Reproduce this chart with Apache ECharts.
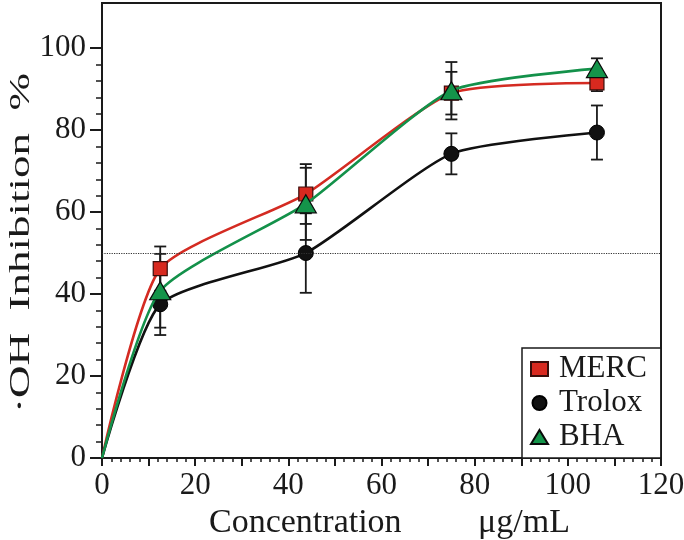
<!DOCTYPE html>
<html>
<head>
<meta charset="utf-8">
<script src="https://cdn.jsdelivr.net/npm/echarts@6/dist/echarts.min.js"></script>
<style>html,body{margin:0;padding:0;background:#fff}#c{width:684px;height:540px}</style>
</head>
<body>
<div id="c"></div>
<script>
// ---- data ----
const xValues = [0, 12.5, 43.75, 75, 106.25];
const mercValues = [0, 46.2, 64.4, 89.0, 91.5];
const mercErrors = [0, 5.4, 7.3, 5.2, 2.0];
const troloxValues = [0, 37.5, 50.0, 74.2, 79.4];
const troloxErrors = [0, 7.5, 9.7, 5.0, 6.6];
const bhaValues = [0, 40.8, 62.0, 89.6, 95.0];
const bhaErrors = [0, 9.0, 8.8, 7.0, 2.5];
const xTickLabels = [0, 20, 40, 60, 80, 100, 120];
const yTickLabels = [0, 20, 40, 60, 80, 100];
const thresholdValue = 50;
const seriesNames = ['MERC', 'Trolox', 'BHA'];
const xAxisTitle = 'Concentration         μg/mL';
const yAxisTitle = '·OH  Inhibition  %';

// ---- helpers ----
const FONT = "'Liberation Serif', 'DejaVu Serif', serif";
const INK = '#1a1a1a';
function range(a, b, s) { const r = []; for (let v = a; v <= b + 1e-9; v += s) r.push(+v.toFixed(4)); return r; }
const xMajorTicks = range(0, 120, 10);
const xMinorTicks = range(0, 120, 2).filter(v => v % 10 !== 0);
const yMinorTicks = range(0, 100, 4).filter(v => v % 20 !== 0);

function lineData(vals) {
  return xValues.map((x, i) => i === 0 ? { value: [x, vals[i]], symbol: 'none' } : [x, vals[i]]);
}
function errData(vals, errs) {
  const out = [];
  xValues.forEach((x, i) => { if (errs[i] > 0) out.push([x, vals[i], errs[i]]); });
  return out;
}
function errSeries(vals, errs) {
  return {
    type: 'custom',
    z: 1,
    silent: true,
    data: errData(vals, errs),
    renderItem: function (params, api) {
      const x = api.value(0), y = api.value(1), e = api.value(2);
      const top = api.coord([x, y + e]);
      const bot = api.coord([x, y - e]);
      const cw = 6;
      const st = { stroke: INK, lineWidth: 1.8 };
      return {
        type: 'group',
        children: [
          { type: 'line', shape: { x1: top[0], y1: top[1], x2: bot[0], y2: bot[1] }, style: st },
          { type: 'line', shape: { x1: top[0] - cw, y1: top[1], x2: top[0] + cw, y2: top[1] }, style: st },
          { type: 'line', shape: { x1: bot[0] - cw, y1: bot[1], x2: bot[0] + cw, y2: bot[1] }, style: st }
        ]
      };
    }
  };
}

const chart = echarts.init(document.getElementById('c'), null, { renderer: 'canvas' });
const option = {
  animation: false,
  backgroundColor: '#fff',
  grid: { left: 102, right: 23, top: 3, bottom: 82, show: true, borderColor: INK, borderWidth: 2, backgroundColor: 'transparent', containLabel: false, outerBoundsMode: 'none' },
  graphic: [{
    type: 'text', x: 21, y: 243, rotation: Math.PI / 2, scaleX: 1.5, scaleY: 1,
    silent: true,
    style: { text: yAxisTitle, fontFamily: FONT, fontSize: 30, fill: INK, align: 'center', verticalAlign: 'middle' }
  }],
  xAxis: [
    {
      type: 'value', min: 0, max: 120, interval: 10,
      name: xAxisTitle, nameLocation: 'middle', nameGap: 37,
      nameTextStyle: { fontFamily: FONT, fontSize: 34, color: INK, padding: [0, 0, 0, 16] },
      axisLine: { show: true, lineStyle: { color: INK, width: 2 } },
      axisTick: { show: true, customValues: xMajorTicks, length: 8, lineStyle: { color: INK, width: 2 } },
      axisLabel: { customValues: xTickLabels, fontFamily: FONT, fontSize: 31, color: INK, margin: 12 },
      splitLine: { show: false }
    },
    {
      type: 'value', min: 0, max: 120, position: 'bottom',
      axisLine: { show: false },
      axisTick: { show: true, customValues: xMinorTicks, length: 4, lineStyle: { color: INK, width: 1.5 } },
      axisLabel: { show: false },
      splitLine: { show: false }
    }
  ],
  yAxis: [
    {
      type: 'value', min: 0, max: 111,
      axisLine: { show: true, lineStyle: { color: INK, width: 2 } },
      axisTick: { show: true, customValues: yTickLabels, length: 12, lineStyle: { color: INK, width: 2 } },
      axisLabel: { customValues: yTickLabels, fontFamily: FONT, fontSize: 31, color: INK, margin: 16 },
      splitLine: { show: false }
    },
    {
      type: 'value', min: 0, max: 111, position: 'left',
      axisLine: { show: false },
      axisTick: { show: true, customValues: yMinorTicks, length: 6, lineStyle: { color: INK, width: 1.5 } },
      axisLabel: { show: false },
      splitLine: { show: false }
    }
  ],
  legend: {
    orient: 'vertical', left: 522, top: 348,
    backgroundColor: '#fff',
    borderColor: INK, borderWidth: 1.5,
    padding: [5, 14, 5, 8],
    itemGap: 2, itemWidth: 17, itemHeight: 14,
    textStyle: { fontFamily: FONT, fontSize: 31, color: INK, lineHeight: 32, padding: [0, 0, 0, 6] },
    data: [
      { name: seriesNames[0], icon: 'rect' },
      { name: seriesNames[1], icon: 'circle' },
      { name: seriesNames[2], icon: 'triangle' }
    ]
  },
  series: [
    errSeries(mercValues, mercErrors),
    errSeries(troloxValues, troloxErrors),
    errSeries(bhaValues, bhaErrors),
    {
      name: seriesNames[0], type: 'line', z: 3, smooth: 0.2,
      data: lineData(mercValues),
      symbol: 'rect', symbolSize: 14,
      lineStyle: { color: '#d42b22', width: 2.6 },
      itemStyle: { color: '#d8291f', borderColor: '#3a0d0a', borderWidth: 1.2 },
      markLine: {
        silent: true, symbol: 'none', label: { show: false },
        lineStyle: { color: '#333', type: 'dotted', width: 1.2 },
        data: [{ yAxis: thresholdValue }]
      }
    },
    {
      name: seriesNames[1], type: 'line', z: 3, smooth: 0.2,
      data: lineData(troloxValues),
      symbol: 'circle', symbolSize: 15,
      lineStyle: { color: '#111', width: 2.6 },
      itemStyle: { color: '#111', borderColor: '#000', borderWidth: 1 }
    },
    {
      name: seriesNames[2], type: 'line', z: 4, smooth: 0.2,
      data: lineData(bhaValues),
      symbol: 'triangle', symbolSize: [21, 18],
      lineStyle: { color: '#13914a', width: 2.6 },
      itemStyle: { color: '#14944a', borderColor: '#0a0a0a', borderWidth: 1.2 }
    }
  ]
};
chart.setOption(option);
</script>
</body>
</html>
